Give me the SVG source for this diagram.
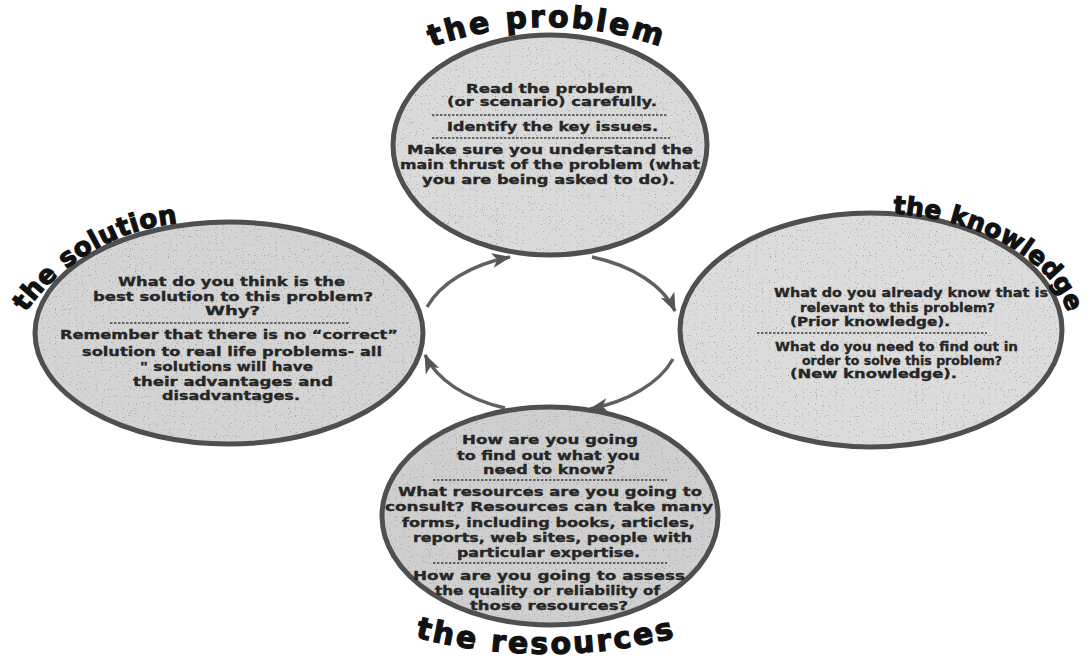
<svg xmlns="http://www.w3.org/2000/svg" xmlns:xlink="http://www.w3.org/1999/xlink" width="1091" height="658" viewBox="0 0 1091 658">
<style>
.bg{fill:#ffffff}
.oval{stroke:#4f4f4f;stroke-width:5}
.spk{fill:#111;opacity:0.55}
.t{font-family:"DejaVu Sans","Liberation Sans",sans-serif;font-weight:bold;font-size:13px;fill:#262626;stroke:#262626;stroke-width:0.35}
.title{font-family:"DejaVu Sans","Liberation Sans",sans-serif;font-weight:bold;fill:#111;stroke:#111;stroke-width:1.2}
.sep{stroke:#444;stroke-width:1.6;stroke-dasharray:2.5 1.5;fill:none}
.arr{fill:none;stroke:#606060;stroke-width:3.4;marker-end:url(#ah)}
</style>
<defs>
<filter id="speck" x="0" y="0" width="1" height="1">
<feTurbulence type="fractalNoise" baseFrequency="0.85" numOctaves="1" seed="7"/>
<feColorMatrix type="matrix" values="0 0 0 0 0.2  0 0 0 0 0.2  0 0 0 0 0.2  10 0 0 0 -6.4"/>
<feComposite in2="SourceGraphic" operator="in"/>
</filter>
<marker id="ah" viewBox="0 0 19 15" refX="18" refY="7.5" markerWidth="19" markerHeight="15" markerUnits="userSpaceOnUse" orient="auto">
<path d="M0,0 L19,7.5 L0,15 L5,7.5 z" fill="#555"/>
</marker>
<path id="pProblem" d="M400,60.4 A340,340 0 0,1 694,60.4"/>
<path id="pKnow" d="M850,213.9 A197,122 0 0,1 1066.8,360"/>
<path id="pSol" d="M-0.2,362.1 A213,213 0 0,1 237,225.2"/>
<path id="pRes" d="M370,623.2 A520,520 0 0,0 722,623.2"/>
</defs>
<rect class="bg" x="0" y="0" width="1091" height="658"/>

<g id="connectors">
<path class="arr" d="M427,307 A130,80 0 0,1 510,257"/>
<path class="arr" d="M592,257 A130,80 0 0,1 675,311"/>
<path class="arr" d="M673,359 A130,80 0 0,1 590,409"/>
<path class="arr" d="M505,408 A130,80 0 0,1 425,355"/>
</g>

<g id="node-problem">
<ellipse class="oval" cx="550" cy="145" rx="157" ry="110" fill="#dadada"/>
<ellipse class="spk" cx="550" cy="145" rx="154" ry="107" filter="url(#speck)"/>
<text class="title" font-size="30" letter-spacing="2.6"><textPath xlink:href="#pProblem" href="#pProblem" startOffset="50%" text-anchor="middle">the problem</textPath></text>
<text class="t" x="466" y="93" textLength="167" lengthAdjust="spacingAndGlyphs">Read the problem</text>
<text class="t" x="447" y="106" textLength="210" lengthAdjust="spacingAndGlyphs">(or scenario) carefully.</text>
<line class="sep" x1="432" y1="115" x2="668" y2="115"/>
<text class="t" x="447" y="131" textLength="211" lengthAdjust="spacingAndGlyphs">Identify the key issues.</text>
<line class="sep" x1="432" y1="138" x2="670" y2="138"/>
<text class="t" x="407" y="154" textLength="286" lengthAdjust="spacingAndGlyphs">Make sure you understand the</text>
<text class="t" x="400" y="169" textLength="300" lengthAdjust="spacingAndGlyphs">main thrust of the problem (what</text>
<text class="t" x="422" y="184" textLength="253" lengthAdjust="spacingAndGlyphs">you are being asked to do).</text>
</g>

<g id="node-knowledge">
<ellipse class="oval" cx="871" cy="330" rx="191" ry="117" fill="#dcdcdc"/>
<ellipse class="spk" cx="871" cy="330" rx="188" ry="114" filter="url(#speck)"/>
<text class="title" font-size="25" letter-spacing="0.3"><textPath xlink:href="#pKnow" href="#pKnow" startOffset="43">the knowledge</textPath></text>
<text class="t" x="774" y="297" textLength="274" lengthAdjust="spacingAndGlyphs">What do you already know that is</text>
<text class="t" x="800" y="312" textLength="195" lengthAdjust="spacingAndGlyphs">relevant to this problem?</text>
<text class="t" x="790" y="326" textLength="160" lengthAdjust="spacingAndGlyphs">(Prior knowledge).</text>
<line class="sep" x1="757" y1="333" x2="987" y2="333"/>
<text class="t" x="775" y="351" textLength="243" lengthAdjust="spacingAndGlyphs">What do you need to find out in</text>
<text class="t" x="802" y="365" textLength="200" lengthAdjust="spacingAndGlyphs">order to solve this problem?</text>
<text class="t" x="790" y="378" textLength="167" lengthAdjust="spacingAndGlyphs">(New knowledge).</text>
</g>

<g id="node-solution">
<ellipse class="oval" cx="229" cy="333" rx="194" ry="111" fill="#d4d4d4"/>
<ellipse class="spk" cx="229" cy="333" rx="191" ry="108" filter="url(#speck)"/>
<text class="title" font-size="26" letter-spacing="0.5"><textPath xlink:href="#pSol" href="#pSol" startOffset="56">the solution</textPath></text>
<text class="t" x="118" y="286" textLength="227" lengthAdjust="spacingAndGlyphs">What do you think is the</text>
<text class="t" x="93" y="301" textLength="280" lengthAdjust="spacingAndGlyphs">best solution to this problem?</text>
<text class="t" x="205" y="315" textLength="55" lengthAdjust="spacingAndGlyphs">Why?</text>
<line class="sep" x1="110" y1="323" x2="350" y2="323"/>
<text class="t" x="60" y="339" textLength="338" lengthAdjust="spacingAndGlyphs">Remember that there is no “correct”</text>
<text class="t" x="82" y="356" textLength="300" lengthAdjust="spacingAndGlyphs">solution to real life problems- all</text>
<text class="t" x="140" y="371" textLength="173" lengthAdjust="spacingAndGlyphs">" solutions will have</text>
<text class="t" x="133" y="386" textLength="200" lengthAdjust="spacingAndGlyphs">their advantages and</text>
<text class="t" x="162" y="400" textLength="138" lengthAdjust="spacingAndGlyphs">disadvantages.</text>
</g>

<g id="node-resources">
<ellipse class="oval" cx="550" cy="516" rx="168" ry="109" fill="#cfcfcf"/>
<ellipse class="spk" cx="550" cy="516" rx="165" ry="106" filter="url(#speck)" opacity="0.3"/>
<text class="title" font-size="30" letter-spacing="2.5"><textPath xlink:href="#pRes" href="#pRes" startOffset="50%" text-anchor="middle">the resources</textPath></text>
<text class="t" x="462" y="444" textLength="176" lengthAdjust="spacingAndGlyphs">How are you going</text>
<text class="t" x="457" y="460" textLength="183" lengthAdjust="spacingAndGlyphs">to find out what you</text>
<text class="t" x="483" y="474" textLength="132" lengthAdjust="spacingAndGlyphs">need to know?</text>
<line class="sep" x1="433" y1="480" x2="667" y2="480"/>
<text class="t" x="398" y="496" textLength="304" lengthAdjust="spacingAndGlyphs">What resources are you going to</text>
<text class="t" x="385" y="511" textLength="328" lengthAdjust="spacingAndGlyphs">consult? Resources can take many</text>
<text class="t" x="402" y="527" textLength="293" lengthAdjust="spacingAndGlyphs">forms, including books, articles,</text>
<text class="t" x="413" y="542" textLength="279" lengthAdjust="spacingAndGlyphs">reports, web sites, people with</text>
<text class="t" x="457" y="557" textLength="183" lengthAdjust="spacingAndGlyphs">particular expertise.</text>
<line class="sep" x1="433" y1="563" x2="667" y2="563"/>
<text class="t" x="413" y="580" textLength="272" lengthAdjust="spacingAndGlyphs">How are you going to assess</text>
<text class="t" x="435" y="595" textLength="225" lengthAdjust="spacingAndGlyphs">the quality or reliability of</text>
<text class="t" x="470" y="610" textLength="158" lengthAdjust="spacingAndGlyphs">those resources?</text>
</g>
</svg>
